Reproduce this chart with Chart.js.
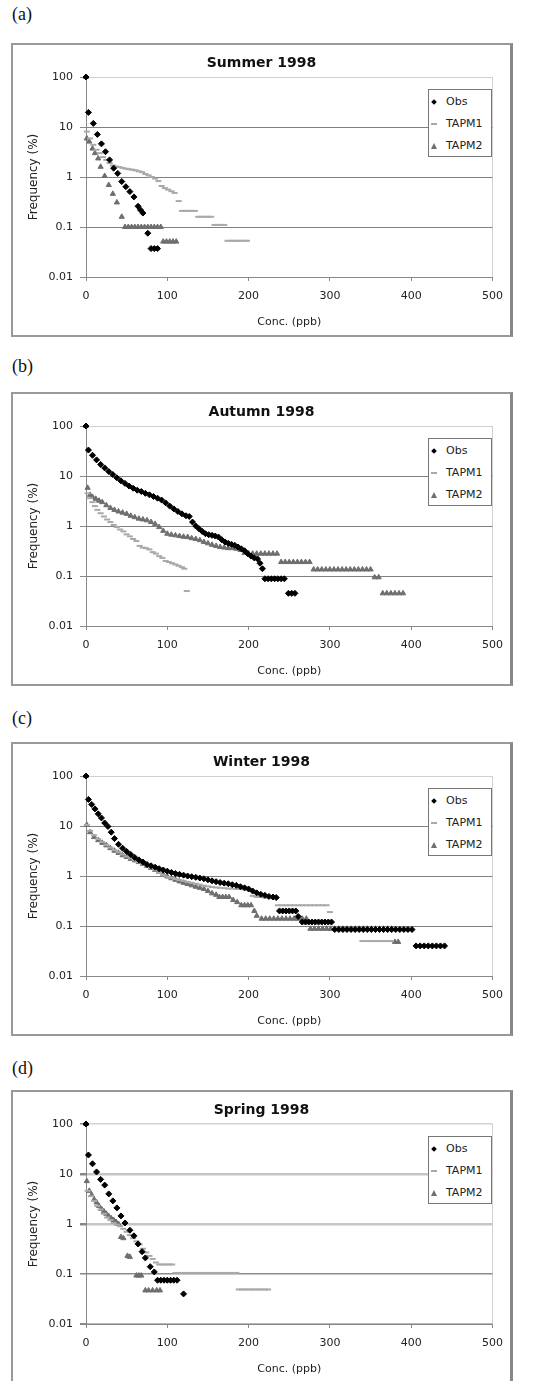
<!DOCTYPE html>
<html>
<head>
<meta charset="utf-8">
<script src="https://cdn.jsdelivr.net/npm/chart.js@4.4.0/dist/chart.umd.min.js"></script>
<style>
  body { margin: 0; background: #fff; width: 535px; height: 1381px; position: relative; overflow: hidden; font-family: "DejaVu Sans", sans-serif; }
  .lab { position: absolute; left: 12px; font: 18px/18px "Liberation Serif", serif; color: #111; }
  .box { position: absolute; left: 12px; width: 500px; height: 293px; }
  .frame { position: absolute; left: 11px; width: 502px; height: 294px; box-sizing: border-box; border: 2px solid #999; border-right: 3px solid #888; pointer-events: none; }
  .legend { position: absolute; left: 428px; width: 64px; height: 68px; box-sizing: border-box; border: 1px solid #777; background: #fff; padding-top: 1px; }
  .legend div { height: 22px; line-height: 22px; font-size: 11px; color: #222; position: relative; padding-left: 17px; }
  .mk { position: absolute; }
  .mk.obs { left: 3px; top: 9px; width: 4px; height: 4px; background: #000; transform: rotate(45deg); }
  .mk.t1 { left: 2px; top: 10px; width: 6px; height: 2px; background: #a9a9a9; }
  .mk.t2 { left: 2px; top: 8px; width: 0; height: 0; border-left: 3px solid transparent; border-right: 3px solid transparent; border-bottom: 6px solid #6e6e6e; }
</style>
</head>
<body>
<div class="lab" style="top:5px">(a)</div>
<div class="lab" style="top:357px">(b)</div>
<div class="lab" style="top:709px">(c)</div>
<div class="lab" style="top:1059px">(d)</div>

<div class="box" style="top:43px"><canvas id="summer"></canvas></div>
<div class="box" style="top:392px"><canvas id="autumn"></canvas></div>
<div class="box" style="top:742px"><canvas id="winter"></canvas></div>
<div class="box" style="top:1090px"><canvas id="spring"></canvas></div>

<div class="frame" style="top:43px"></div>
<div class="frame" style="top:392px"></div>
<div class="frame" style="top:742px"></div>
<div class="frame" style="top:1090px"></div>

<script>
// Axis ticks
const xTickValues = [0, 100, 200, 300, 400, 500];
const xTickLabels = ['0', '100', '200', '300', '400', '500'];
const yTickValues = [0.01, 0.1, 1, 10, 100];
const yTickLabels = ['0.01', '0.1', '1', '10', '100'];
const seriesNames = ['Obs', 'TAPM1', 'TAPM2'];

// Summer 1998
const sumObsX = [0, 3, 9, 14, 19, 24, 29, 34, 39, 44, 49, 54, 59, 64, 67, 70, 76, 80, 84, 88];
const sumObsY = [100, 19.6, 11.8, 7.1, 4.6, 3.2, 2.2, 1.5, 1.18, 0.81, 0.64, 0.51, 0.4, 0.26, 0.22, 0.19, 0.075, 0.037, 0.037, 0.037];
const sumT1X = [0, 1, 5, 9, 13, 17, 21, 25, 29, 33, 37, 41, 45, 49, 53, 57, 61, 65, 69, 73, 77, 81, 85, 89, 93, 97, 101, 105, 109, 114,
  118, 122, 126, 130, 134, 138, 142, 146, 150, 154, 158, 162, 166, 170, 174, 178, 182, 186, 190, 194, 198];
const sumT1Y = [100, 8.1, 5.9, 4.4, 3.5, 3.0, 2.5, 2.2, 1.9, 1.7, 1.62, 1.58, 1.52, 1.47, 1.43, 1.4, 1.36, 1.3, 1.25, 1.15, 1.08, 1.0, 0.93, 0.83, 0.66, 0.6, 0.56, 0.52, 0.48, 0.33,
  0.21, 0.21, 0.21, 0.21, 0.21, 0.16, 0.16, 0.16, 0.16, 0.16, 0.11, 0.11, 0.11, 0.11, 0.053, 0.053, 0.053, 0.053, 0.053, 0.053, 0.053];
const sumT2X = [0, 1, 4, 8, 11, 15, 18, 23, 28, 33, 38, 44, 48, 52, 56, 60, 64, 68, 72, 76, 80, 84, 88, 92, 95, 99, 103, 107, 111];
const sumT2Y = [100, 5.9, 5.1, 3.7, 3.0, 2.35, 1.6, 1.05, 0.69, 0.46, 0.31, 0.16, 0.1, 0.1, 0.1, 0.1, 0.1, 0.1, 0.1, 0.1, 0.1, 0.1, 0.1, 0.1, 0.051, 0.051, 0.051, 0.051, 0.051];

// Autumn 1998
const autObsX = [0, 3, 8, 13, 18, 23, 28, 33, 38, 43, 48, 53, 58, 63, 68, 73, 78, 83, 88, 93, 98, 103, 108, 113, 118, 123, 127, 131, 135, 139,
  143, 147, 151, 155, 159, 163, 167, 171, 175, 179, 183, 187, 191, 195, 199, 203, 207, 211, 214, 217, 220, 224, 228, 232, 236, 240, 244, 249, 253, 257];
const autObsY = [100, 33, 26, 21, 17, 14.5, 12.3, 10.7, 9.2, 8.0, 7.1, 6.3, 5.7, 5.2, 4.9, 4.5, 4.2, 3.9, 3.6, 3.3, 2.9, 2.5, 2.2, 1.95, 1.75, 1.6, 1.55, 1.2, 1.0, 0.88,
  0.78, 0.7, 0.67, 0.65, 0.63, 0.6, 0.53, 0.48, 0.45, 0.43, 0.41, 0.38, 0.35, 0.32, 0.28, 0.25, 0.23, 0.22, 0.18, 0.14, 0.088, 0.088, 0.088, 0.088, 0.088, 0.088, 0.088, 0.045, 0.045, 0.045];
const autT1X = [0, 2, 5, 8, 11, 14, 18, 22, 26, 30, 34, 38, 42, 46, 50, 54, 58, 62, 66, 70, 74, 78, 82, 86, 90, 94, 98, 102, 106, 110, 114, 118, 121, 124];
const autT1Y = [100, 4.5, 3.6, 3.0, 2.5, 2.1, 1.8, 1.55, 1.35, 1.2, 1.05, 0.95, 0.85, 0.78, 0.68, 0.62, 0.55, 0.5, 0.4, 0.37, 0.36, 0.34, 0.3, 0.28, 0.25, 0.23, 0.2, 0.19, 0.18, 0.17, 0.16, 0.15, 0.14, 0.05];
const autT2X = [0, 2, 5, 8, 12, 16, 20, 25, 30, 35, 40, 45, 50, 55, 60, 65, 70, 75, 80, 85, 90, 95, 100, 105, 110, 115, 120, 125, 130, 135,
  140, 145, 150, 155, 160, 165, 170, 175, 180, 185, 190, 195, 200, 205, 210, 215, 220, 225, 230, 235, 240, 245, 250, 255, 260, 265, 270, 275,
  280, 285, 290, 295, 300, 305, 310, 315, 320, 325, 330, 335, 340, 345, 350, 355, 360, 365, 370, 375, 380, 385, 390];
const autT2Y = [100, 5.8, 4.2, 3.8, 3.5, 3.2, 3.0, 2.6, 2.3, 2.1, 1.95, 1.85, 1.75, 1.6, 1.5, 1.4, 1.35, 1.3, 1.2, 1.1, 0.95, 0.8, 0.7, 0.67, 0.65, 0.63, 0.61, 0.6, 0.57, 0.55,
  0.52, 0.48, 0.45, 0.42, 0.4, 0.38, 0.37, 0.36, 0.36, 0.35, 0.33, 0.29, 0.28, 0.28, 0.28, 0.28, 0.28, 0.28, 0.28, 0.28, 0.19, 0.19, 0.19, 0.19, 0.19, 0.19, 0.19, 0.19,
  0.135, 0.135, 0.135, 0.135, 0.135, 0.135, 0.135, 0.135, 0.135, 0.135, 0.135, 0.135, 0.135, 0.135, 0.135, 0.094, 0.094, 0.045, 0.045, 0.045, 0.045, 0.045, 0.045];

// Winter 1998
const winObsX = [0, 3, 7, 11, 15, 19, 23, 27, 31, 35, 40, 45, 50, 55, 60, 65, 70, 75, 80, 85, 90, 95, 100, 105, 110, 115, 120, 125, 130, 135,
  140, 145, 150, 155, 160, 165, 170, 175, 180, 185, 190, 195, 200, 205, 210, 215, 220, 225, 230, 234, 238, 242, 246, 250, 254, 258, 261,
  266, 270, 274, 278, 282, 286, 290, 294, 298, 302, 306, 311, 316, 321, 326, 331, 336, 341, 346, 351, 356, 361, 366, 371, 376, 381, 386, 391, 396, 401,
  406, 411, 416, 421, 426, 431, 436, 441];
const winObsY = [100, 34, 27, 22, 17.5, 14.5, 11.5, 9.8, 7.5, 5.6, 4.3, 3.6, 3.1, 2.7, 2.35, 2.1, 1.9, 1.7, 1.6, 1.5, 1.4, 1.32, 1.25, 1.18, 1.12, 1.08, 1.04, 1.0, 0.97, 0.94,
  0.91, 0.88, 0.84, 0.8, 0.77, 0.74, 0.72, 0.7, 0.67, 0.65, 0.61, 0.58, 0.55, 0.5, 0.46, 0.43, 0.41, 0.39, 0.38, 0.37, 0.2, 0.2, 0.2, 0.2, 0.2, 0.2, 0.155,
  0.12, 0.12, 0.12, 0.12, 0.12, 0.12, 0.12, 0.12, 0.12, 0.12, 0.085, 0.085, 0.085, 0.085, 0.085, 0.085, 0.085, 0.085, 0.085, 0.085, 0.085, 0.085, 0.085, 0.085, 0.085, 0.085, 0.085, 0.085, 0.085, 0.085,
  0.04, 0.04, 0.04, 0.04, 0.04, 0.04, 0.04, 0.04];
const winT1X = [0, 1, 5, 10, 15, 20, 25, 30, 35, 40, 45, 50, 55, 60, 65, 70, 75, 80, 85, 90, 95, 100, 105, 110, 115, 120, 125, 130, 135, 140,
  145, 150, 155, 160, 165, 170, 175, 180, 185, 190, 195, 200, 205, 210, 215, 220, 225, 230,
  236, 241, 246, 251, 256, 261, 266, 271, 276, 281, 286, 291, 296, 300, 340, 345, 350, 355, 360, 365, 370, 375];
const winT1Y = [100, 10.5, 8.0, 6.5, 5.5, 4.8, 4.2, 3.7, 3.3, 3.0, 2.7, 2.45, 2.25, 2.05, 1.9, 1.75, 1.6, 1.45, 1.3, 1.15, 1.05, 0.97, 0.92, 0.87, 0.83, 0.8, 0.76, 0.73, 0.7, 0.67,
  0.64, 0.62, 0.6, 0.59, 0.58, 0.57, 0.56, 0.56, 0.55, 0.55, 0.54, 0.53, 0.4, 0.38, 0.38, 0.37, 0.37, 0.36,
  0.26, 0.26, 0.26, 0.26, 0.26, 0.26, 0.26, 0.26, 0.26, 0.26, 0.26, 0.26, 0.26, 0.19, 0.05, 0.05, 0.05, 0.05, 0.05, 0.05, 0.05, 0.05];
const winT2X = [0, 1, 5, 10, 15, 20, 25, 30, 35, 40, 45, 50, 55, 60, 65, 70, 75, 80, 85, 90, 95, 100, 105, 110, 115, 120, 125, 130, 135, 140,
  145, 150, 155, 160, 164, 168, 172, 176, 181, 186, 191, 195, 199, 203, 207, 210,
  216, 221, 226, 231, 236, 241, 246, 251, 256, 261, 266, 271,
  276, 281, 286, 291, 296, 301, 306, 311, 316, 321, 326, 331, 336, 341, 346, 351, 356, 361, 366, 371, 376, 380, 384];
const winT2Y = [100, 10.5, 7.5, 6.0, 5.2, 4.6, 4.1, 3.6, 3.2, 2.9, 2.6, 2.4, 2.2, 2.05, 1.9, 1.75, 1.6, 1.45, 1.32, 1.2, 1.08, 0.98, 0.9, 0.84, 0.78, 0.73, 0.69, 0.65, 0.61, 0.58,
  0.55, 0.5, 0.45, 0.42, 0.38, 0.38, 0.38, 0.38, 0.33, 0.3, 0.26, 0.26, 0.26, 0.26, 0.2, 0.16,
  0.14, 0.14, 0.14, 0.14, 0.14, 0.14, 0.14, 0.14, 0.14, 0.14, 0.14, 0.14,
  0.088, 0.088, 0.088, 0.088, 0.088, 0.088, 0.088, 0.088, 0.088, 0.088, 0.088, 0.088, 0.088, 0.088, 0.088, 0.088, 0.088, 0.088, 0.088, 0.088, 0.088, 0.048, 0.048];

// Spring 1998
const sprObsX = [0, 3, 8, 13, 18, 23, 28, 33, 38, 43, 48, 54, 59, 64, 69, 73, 79, 84, 88, 92, 96, 100, 104, 108, 112, 120];
const sprObsY = [100, 24, 16, 11, 7.8, 6.0, 4.0, 2.9, 2.1, 1.45, 1.05, 0.75, 0.58, 0.4, 0.28, 0.21, 0.14, 0.11, 0.075, 0.075, 0.075, 0.075, 0.075, 0.075, 0.075, 0.04];
const sprT1X = [0, 2, 6, 10, 14, 18, 22, 26, 30, 34, 38, 42, 46, 50, 54, 58, 62, 66, 70, 74, 78, 82, 86, 90, 94, 98, 102, 106,
  110, 115, 120, 125, 130, 135, 140, 145, 150, 155, 160, 165, 170, 175, 180, 185, 188, 192, 196, 200, 204, 208, 212, 216, 220, 224];
const sprT1Y = [100, 4.6, 3.6, 2.9, 2.3, 1.95, 1.6, 1.35, 1.2, 1.05, 0.97, 0.9, 0.8, 0.7, 0.6, 0.52, 0.45, 0.39, 0.32, 0.27, 0.23, 0.2, 0.17, 0.155, 0.155, 0.155, 0.155, 0.155,
  0.105, 0.105, 0.105, 0.105, 0.105, 0.105, 0.105, 0.105, 0.105, 0.105, 0.105, 0.105, 0.105, 0.105, 0.105, 0.105, 0.049, 0.049, 0.049, 0.049, 0.049, 0.049, 0.049, 0.049, 0.049, 0.049];
const sprT2X = [0, 1, 4, 7, 10, 13, 16, 19, 22, 25, 28, 31, 34, 37, 40, 43, 46, 51, 54, 62, 65, 68, 73, 77, 82, 87, 91];
const sprT2Y = [100, 7.2, 4.6, 3.8, 3.1, 2.7, 2.3, 2.0, 1.8, 1.6, 1.43, 1.3, 1.2, 1.1, 1.0, 0.55, 0.52, 0.23, 0.22, 0.093, 0.093, 0.093, 0.047, 0.047, 0.047, 0.047, 0.047];

Chart.defaults.font.family = '"DejaVu Sans", sans-serif';
Chart.defaults.color = '#222';
Chart.defaults.animation = false;

// gridline colours for 0.01, 0.1, 1, 10, 100
const plainGrid = { colors: ['#808080', '#808080', '#808080', '#808080', '#d0d0d0'], widths: [1, 1, 1, 1, 1] };
const scanGrid = { colors: ['#b8b8b8', '#8c8c8c', '#c6c6c6', '#c6c6c6', '#d4d4d4'], widths: [2, 1.5, 2.5, 2.5, 1.5] };

function pts(xs, ys) {
  return xs.map((x, i) => ({ x: x, y: ys[i] }));
}

function addLegend(top) {
  const leg = document.createElement('div');
  leg.className = 'legend';
  leg.style.top = top + 'px';
  const marks = ['obs', 't1', 't2'];
  seriesNames.forEach((name, i) => {
    const row = document.createElement('div');
    const mk = document.createElement('span');
    mk.className = 'mk ' + marks[i];
    row.appendChild(mk);
    row.appendChild(document.createTextNode(name));
    leg.appendChild(row);
  });
  document.body.appendChild(leg);
}

function makeChart(id, title, top, obs, t1, t2, grid) {
  const ctx = document.getElementById(id).getContext('2d');
  new Chart(ctx, {
    type: 'scatter',
    data: {
      datasets: [
        { label: seriesNames[0], data: pts(obs[0], obs[1]), pointStyle: 'rectRot', pointRadius: 3,
          pointBackgroundColor: '#000', pointBorderColor: '#000', pointBorderWidth: 1, clip: false },
        { label: seriesNames[1], data: pts(t1[0], t1[1]), pointStyle: 'line', pointRadius: 3,
          pointBorderColor: '#a9a9a9', pointBorderWidth: 2, clip: false },
        { label: seriesNames[2], data: pts(t2[0], t2[1]), pointStyle: 'triangle', pointRadius: 3,
          pointBackgroundColor: '#6e6e6e', pointBorderColor: '#6e6e6e', pointBorderWidth: 1, clip: false }
      ]
    },
    options: {
      responsive: true,
      maintainAspectRatio: false,
      layout: { padding: { left: 10, right: 11, top: 0, bottom: 0 } },
      plugins: {
        legend: { display: false },
        tooltip: { enabled: false },
        title: {
          display: true, text: title, color: '#111',
          font: { size: 14, weight: 'bold' },
          padding: { top: 12, bottom: 5.2 }
        }
      },
      scales: {
        x: {
          type: 'linear', min: 0, max: 500,
          afterBuildTicks: axis => { axis.ticks = xTickValues.map(v => ({ value: v })); },
          afterFit: axis => { axis.height = 59; },
          ticks: { padding: 9, font: { size: 11 }, callback: v => xTickLabels[xTickValues.indexOf(v)] },
          grid: {
            color: c => (c.tick && c.tick.value === 500) ? '#d0d0d0' : 'rgba(0,0,0,0)',
            tickColor: '#888', tickLength: 4
          },
          border: { color: '#888' },
          title: { display: true, text: 'Conc. (ppb)', font: { size: 11 }, padding: { top: 0, bottom: 7.4 } }
        },
        y: {
          type: 'logarithmic', min: 0.01, max: 100,
          afterBuildTicks: axis => { axis.ticks = yTickValues.map(v => ({ value: v })); },
          afterFit: axis => { axis.width = 64; },
          ticks: { padding: 7, font: { size: 11 }, callback: v => yTickLabels[yTickValues.indexOf(v)] },
          grid: {
            color: c => grid.colors[c.index],
            lineWidth: c => grid.widths[c.index],
            tickColor: '#888', tickLength: 6
          },
          border: { color: '#888' },
          title: { display: true, text: 'Frequency (%)', font: { size: 12 }, padding: { top: 5, bottom: 0 } }
        }
      }
    }
  });
  addLegend(top + 46);
}

makeChart('summer', 'Summer 1998', 43, [sumObsX, sumObsY], [sumT1X, sumT1Y], [sumT2X, sumT2Y], plainGrid);
makeChart('autumn', 'Autumn 1998', 392, [autObsX, autObsY], [autT1X, autT1Y], [autT2X, autT2Y], plainGrid);
makeChart('winter', 'Winter 1998', 742, [winObsX, winObsY], [winT1X, winT1Y], [winT2X, winT2Y], plainGrid);
makeChart('spring', 'Spring 1998', 1090, [sprObsX, sprObsY], [sprT1X, sprT1Y], [sprT2X, sprT2Y], scanGrid);
</script>
</body>
</html>
